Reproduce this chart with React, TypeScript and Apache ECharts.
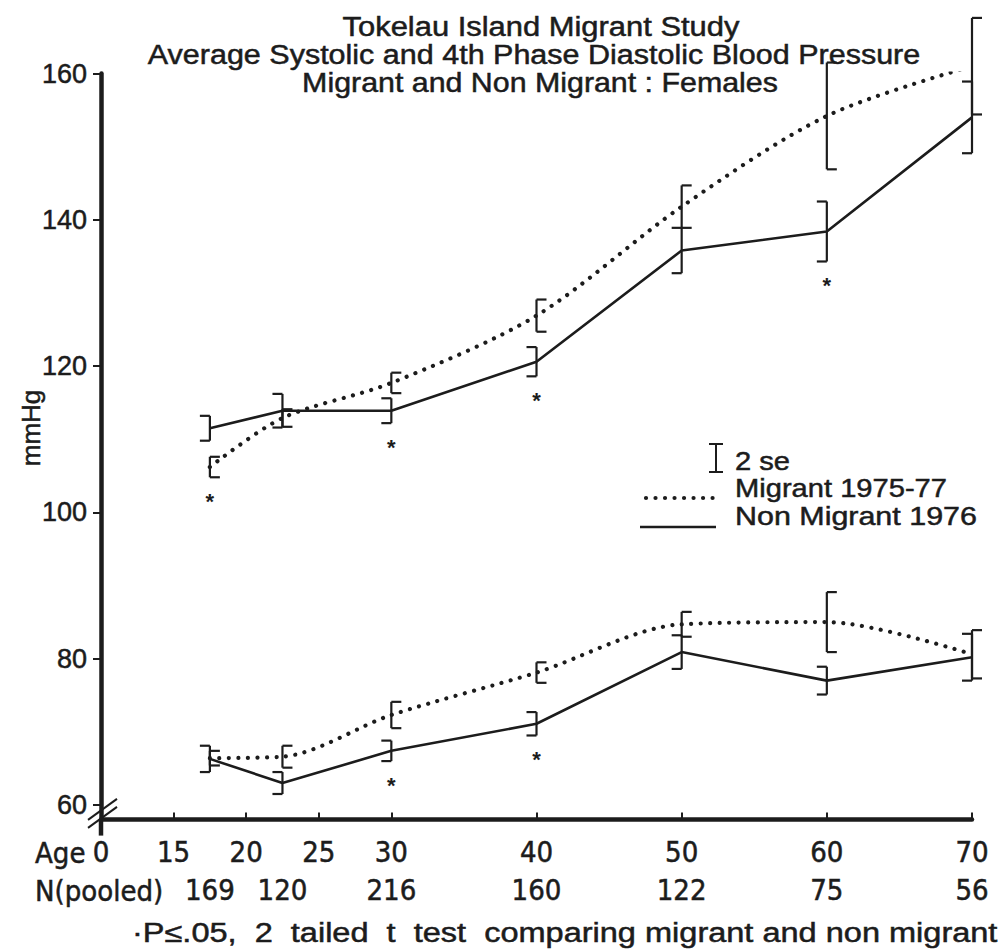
import React, { useEffect, useRef } from 'react';
import * as echarts from 'echarts';

// ---- data ----
const AGES = [17.5, 22.5, 30, 40, 50, 60, 70];
const N_POOLED = [169, 120, 216, 160, 122, 75, 56];
const AGE_TICKS = [10, 15, 20, 25, 30, 40, 50, 60, 70];
const AGE_TICK_LABELS = ['0', '15', '20', '25', '30', '40', '50', '60', '70'];
const Y_TICKS = [60, 80, 100, 120, 140, 160];

const SYS_MIGRANT = [106.2, 112.9, 117.7, 126.9, 141.8, 154.2, 161.0];
const SYS_MIGRANT_2SE = [1.4, 1.2, 1.4, 2.2, 2.9, 7.3, 6.6];
const SYS_NONMIG = [111.5, 113.9, 113.9, 120.6, 135.8, 138.4, 154.0];
const SYS_NONMIG_2SE = [1.7, 2.3, 1.7, 2.0, 3.1, 4.1, 4.9];
const DIA_MIGRANT = [66.4, 66.6, 72.3, 78.1, 84.7, 85.0, 80.6];
const DIA_MIGRANT_2SE = [1.0, 1.5, 1.8, 1.4, 1.7, 4.1, 3.3];
const DIA_NONMIG = [66.3, 63.0, 67.4, 71.1, 80.9, 77.0, 80.2];
const DIA_NONMIG_2SE = [1.8, 1.5, 1.4, 1.6, 2.3, 1.9, 3.2];

const SIG_SYS_AGES = [17.5, 30, 40, 60];
const SIG_DIA_AGES = [30, 40];

const TITLE_LINES = [
  'Tokelau Island Migrant Study',
  'Average Systolic and 4th Phase Diastolic Blood Pressure',
  'Migrant and Non Migrant : Females',
];
const LEGEND_SE = '2 se';
const LEGEND_MIGRANT = 'Migrant 1975-77';
const LEGEND_NONMIG = 'Non Migrant 1976';
const FOOTNOTE = '\u00b7P\u2264.05,  2  tailed  t  test  comparing migrant and non migrant';

// ---- styles ----
const INK = '#1c1c1c';
const FONT = "'Liberation Sans', Arial, Helvetica, sans-serif";
const NARROW = "'Liberation Sans Narrow', 'Arial Narrow', 'DejaVu Sans Condensed', 'Liberation Sans', sans-serif";
const DOTS: number[] = [0.01, 9.5];
const INK_EDGE = 0.5;

function points(vals: number[]) {
  return AGES.map((a, i) => [a, vals[i]]);
}
function bars(vals: number[], se: number[]) {
  return AGES.map((a, i) => [a, vals[i] - se[i], vals[i] + se[i]]);
}
function sigPoints(ages: number[], m: number[], mse: number[], n: number[], nse: number[]) {
  return ages.map((a) => {
    const i = AGES.indexOf(a);
    return [a, Math.min(m[i] - mse[i], n[i] - nse[i])];
  });
}

function errorBarSeries(name: string, data: number[][], dir: number) {
  return {
    type: 'custom',
    name,
    clip: false,
    z: 5,
    data,
    renderItem: (_p: any, api: any) => {
      const lo = api.coord([api.value(0), api.value(1)]);
      const hi = api.coord([api.value(0), api.value(2)]);
      const L = 10;
      const st = { stroke: INK, lineWidth: 2.2 };
      return {
        type: 'group',
        children: [
          { type: 'line', shape: { x1: lo[0], y1: lo[1], x2: hi[0], y2: hi[1] }, style: st },
          { type: 'line', shape: { x1: lo[0], y1: lo[1], x2: lo[0] + dir * L, y2: lo[1] }, style: st },
          { type: 'line', shape: { x1: hi[0], y1: hi[1], x2: hi[0] + dir * L, y2: hi[1] }, style: st },
        ],
      };
    },
  };
}

function asteriskSeries(name: string, data: number[][]) {
  return {
    type: 'custom',
    name,
    clip: false,
    data,
    renderItem: (_p: any, api: any) => {
      const p = api.coord([api.value(0), api.value(1)]);
      return {
        type: 'text',
        x: p[0],
        y: p[1] + 24,
        style: { text: '*', fill: INK, font: `bold 22px ${FONT}`, align: 'center', verticalAlign: 'middle' },
      };
    },
  };
}

function lineSeries(name: string, vals: number[], dotted: boolean) {
  return {
    type: 'line',
    name,
    data: points(vals),
    symbol: 'none',
    smooth: dotted ? 0.3 : false,
    z: 4,
    lineStyle: dotted
      ? { color: INK, width: 4.2, type: DOTS, cap: 'round' }
      : { color: INK, width: 2.6 },
  };
}

let measureCtx: CanvasRenderingContext2D | null = null;
function measure(text: string, font: string) {
  if (!measureCtx) measureCtx = document.createElement('canvas').getContext('2d');
  if (!measureCtx) return 1;
  measureCtx.font = font;
  return measureCtx.measureText(text).width || 1;
}

export default function App() {
  const ref = useRef<HTMLDivElement>(null);

  useEffect(() => {
    if (!ref.current) return;
    const chart = echarts.init(ref.current, undefined, { renderer: 'svg' });

    const labelInk = { color: INK, textBorderColor: INK, textBorderWidth: INK_EDGE };

    const option: any = {
      animation: false,
      backgroundColor: '#ffffff',
      grid: { left: 101, right: 33, top: 73.5, bottom: 131.4 },
      xAxis: [
        {
          type: 'value',
          min: 10,
          max: 70,
          position: 'bottom',
          axisLine: { show: true, lineStyle: { color: INK, width: 4.5 } },
          axisTick: { show: true, inside: true, length: 7, customValues: AGE_TICKS, lineStyle: { color: INK, width: 2 } },
          axisLabel: {
            customValues: AGE_TICKS,
            formatter: (v: number) => AGE_TICK_LABELS[AGE_TICKS.indexOf(v)],
            ...labelInk,
            fontFamily: NARROW,
            fontSize: 29,
            margin: 18,
          },
          splitLine: { show: false },
        },
        {
          type: 'value',
          min: 10,
          max: 70,
          position: 'bottom',
          offset: 38,
          axisLine: { show: false },
          axisTick: { show: false },
          axisLabel: {
            customValues: AGES,
            formatter: (v: number) => String(N_POOLED[AGES.indexOf(v)]),
            ...labelInk,
            fontFamily: NARROW,
            fontSize: 29,
            margin: 18,
          },
          splitLine: { show: false },
        },
      ],
      yAxis: {
        type: 'value',
        min: 58,
        max: 160,
        axisLine: { show: true, lineStyle: { color: INK, width: 4.5 } },
        axisTick: { show: true, length: 8, customValues: Y_TICKS, lineStyle: { color: INK, width: 2 } },
        axisLabel: { customValues: Y_TICKS, ...labelInk, fontFamily: FONT, fontSize: 27, margin: 14 },
        splitLine: { show: false },
      },
      series: [
        lineSeries('Systolic migrant', SYS_MIGRANT, true),
        lineSeries('Systolic non migrant', SYS_NONMIG, false),
        lineSeries('Diastolic migrant', DIA_MIGRANT, true),
        lineSeries('Diastolic non migrant', DIA_NONMIG, false),
        errorBarSeries('Systolic migrant 2se', bars(SYS_MIGRANT, SYS_MIGRANT_2SE), 1),
        errorBarSeries('Systolic non migrant 2se', bars(SYS_NONMIG, SYS_NONMIG_2SE), -1),
        errorBarSeries('Diastolic migrant 2se', bars(DIA_MIGRANT, DIA_MIGRANT_2SE), 1),
        errorBarSeries('Diastolic non migrant 2se', bars(DIA_NONMIG, DIA_NONMIG_2SE), -1),
        asteriskSeries('Systolic significant', sigPoints(SIG_SYS_AGES, SYS_MIGRANT, SYS_MIGRANT_2SE, SYS_NONMIG, SYS_NONMIG_2SE)),
        asteriskSeries('Diastolic significant', sigPoints(SIG_DIA_AGES, DIA_MIGRANT, DIA_MIGRANT_2SE, DIA_NONMIG, DIA_NONMIG_2SE)),
      ],
    };
    chart.setOption(option);

    const origin = chart.convertToPixel({ gridIndex: 0 }, [10, 58]) as number[];
    const brk = chart.convertToPixel({ gridIndex: 0 }, [10, 59.2]) as number[];
    const ox = origin[0];
    const oy = origin[1];
    const by = brk[1];
    const lineSt = { stroke: INK, lineWidth: 2 };

    // text fitted to a target width (the reference uses wide-set lettering)
    const fitText = (text: string, x: number, y: number, size: number, align: string, width: number, family = FONT) => {
      const font = `${size}px ${family}`;
      const sx = width / measure(text, font);
      return {
        type: 'text',
        x,
        y,
        scaleX: sx,
        style: { text, fill: INK, stroke: INK, lineWidth: INK_EDGE, font, align, verticalAlign: 'middle' },
      };
    };
    const txt = (text: string, x: number, y: number, size: number, align: string, family = FONT) => ({
      type: 'text',
      x,
      y,
      style: { text, fill: INK, stroke: INK, lineWidth: INK_EDGE, font: `${size}px ${family}`, align, verticalAlign: 'middle' },
    });

    chart.setOption({
      graphic: [
        fitText(TITLE_LINES[0], 541, 27, 27, 'center', 397),
        fitText(TITLE_LINES[1], 534, 55, 27, 'center', 773),
        fitText(TITLE_LINES[2], 540, 83, 27, 'center', 476),
        {
          type: 'text',
          x: 31,
          y: 428,
          rotation: Math.PI / 2,
          style: { text: 'mmHg', fill: INK, stroke: INK, lineWidth: INK_EDGE, font: `26px ${FONT}`, align: 'center', verticalAlign: 'middle' },
        },
        // legend
        { type: 'line', shape: { x1: 716, y1: 444, x2: 716, y2: 472 }, style: lineSt },
        { type: 'line', shape: { x1: 709, y1: 444, x2: 723, y2: 444 }, style: lineSt },
        { type: 'line', shape: { x1: 709, y1: 472, x2: 723, y2: 472 }, style: lineSt },
        fitText(LEGEND_SE, 735, 461, 26, 'left', 55),
        { type: 'line', shape: { x1: 646, y1: 498, x2: 716, y2: 498 }, style: { stroke: INK, lineWidth: 4.2, lineDash: DOTS, lineCap: 'round' } },
        fitText(LEGEND_MIGRANT, 735, 488, 26, 'left', 212),
        { type: 'line', shape: { x1: 640, y1: 527, x2: 716, y2: 527 }, style: { stroke: INK, lineWidth: 2.6 } },
        fitText(LEGEND_NONMIG, 735, 516, 26, 'left', 242),
        // axis row names
        txt('Age', 35, 853, 29, 'left', NARROW),
        txt('N(pooled)', 35, 891, 29, 'left', NARROW),
        fitText(FOOTNOTE, 132, 933, 27, 'left', 866),
        // axis break and stub
        { type: 'line', shape: { x1: ox - 13, y1: by + 9, x2: ox + 16, y2: by - 12 }, style: lineSt },
        { type: 'line', shape: { x1: ox - 13, y1: by + 17, x2: ox + 16, y2: by - 4 }, style: lineSt },
        { type: 'line', shape: { x1: ox, y1: oy, x2: ox, y2: oy + 16 }, style: { stroke: INK, lineWidth: 4.5 } },
      ],
    });

    return () => chart.dispose();
  }, []);

  return (
    <div
      ref={ref}
      style={{ position: 'fixed', left: 0, top: 0, width: 1005, height: 951, background: '#fff' }}
    />
  );
}
